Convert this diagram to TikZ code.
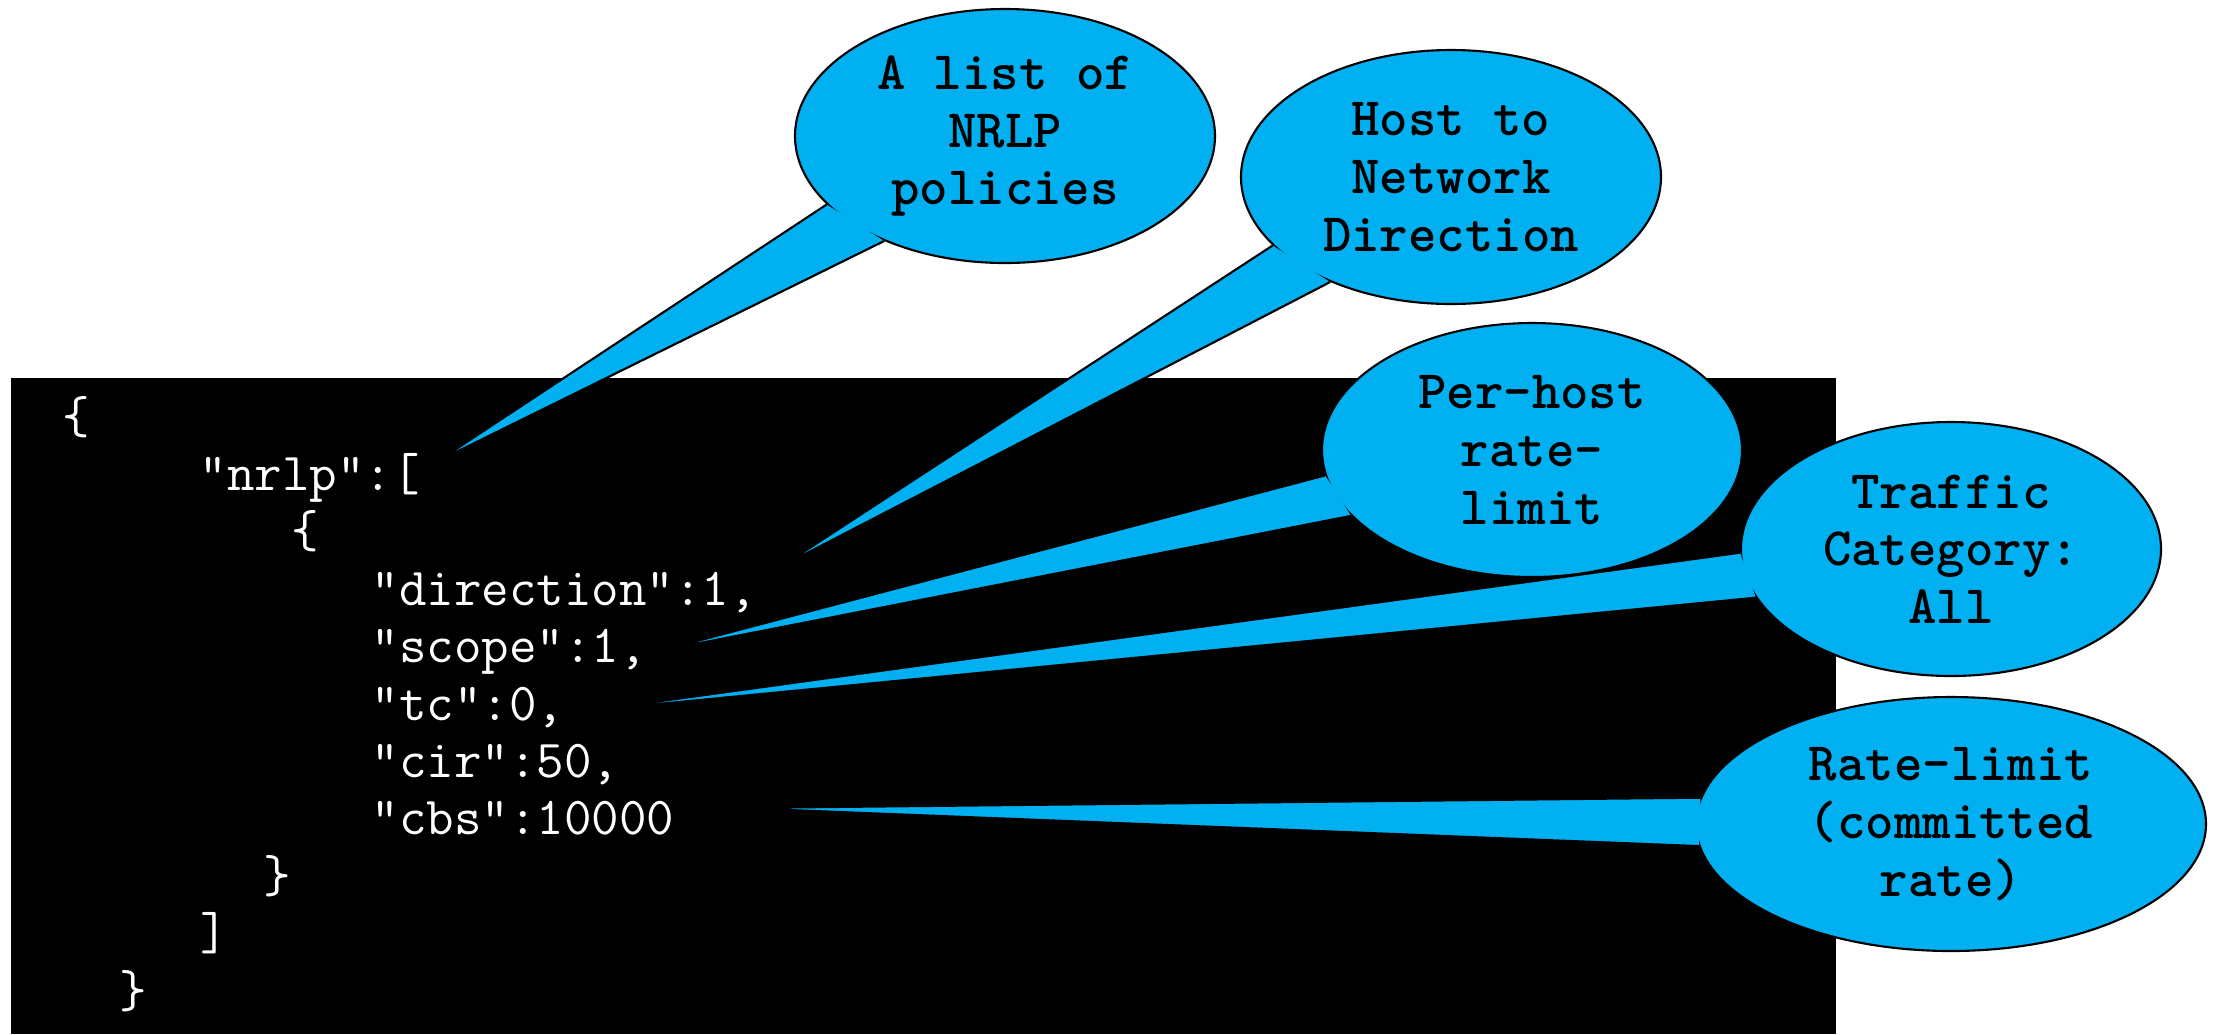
\documentclass[tikz,border=0pt]{standalone}
\usepackage{fontspec}
\usetikzlibrary{shapes.geometric}
\definecolor{Callout}{HTML}{00B0F0}
\definecolor{CodeBack}{HTML}{000000}

\tikzset{
  balloon/.style={ellipse, draw=black, fill=Callout, line width=0.6pt, inner sep=0pt,
    minimum width=42mm, minimum height=25.4mm, align=center,
    font=\ttfamily\bfseries\fontsize{15.4}{16.4}\selectfont},
  tail/.style={fill=Callout},
  tailedge/.style={draw=black, line width=0.6pt, line join=round},
  codeline/.style={text=white, inner sep=0pt, anchor=base west,
    font=\ttfamily\fontsize{15.2}{16.3}\selectfont}
}

\begin{document}
\begin{tikzpicture}[x=0.1mm,y=-0.1mm]
  \useasboundingbox (0,0) rectangle (2220,1034);
  \fill[CodeBack] (11,378) rectangle (1836,1034);
  % the json text, one line per row
  \foreach \x/\i/\txt in {62/0/\{, 199/1/{"nrlp":[}, 291/2/\{,
      371/3/{"direction":1,}, 371/4/{"scope":1,}, 371/5/{"tc":0,},
      371/6/{"cir":50,}, 371/7/{"cbs":10000}, 263/8/\}, 200/9/{]}, 119/10/\}} {
    \node[codeline] (code\i) at (\x,433+57.4*\i) {\txt};
  }
  % callouts
  \node[balloon] (policies) at (1005,136) {A list of\\NRLP\\policies};
  \coordinate (policiestip) at (438,461);
  \fill[tail] (policiestip) -- (policies.201) -- (policies.221) -- cycle;
  \draw[tailedge] (policies.201) -- (policiestip) -- (policies.221);

  \node[balloon] (direction) at (1451,177) {Host to\\Network\\Direction};
  \coordinate (directiontip) at (782,566);
  \fill[tail] (directiontip) -- (direction.201) -- (direction.221) -- cycle;
  \draw[tailedge] (direction.201) -- (directiontip) -- (direction.221);

  \node[balloon] (scope) at (1532,450) {Per-host\\rate-\\limit};
  \coordinate (scopetip) at (659,651);
  \fill[tail] (scopetip) -- (scope.187) -- (scope.200) -- cycle;
  \draw[tailedge] (scope.187) -- (scopetip) -- (scope.200);

  \node[balloon] (category) at (1951,549) {Traffic\\Category:\\All};
  \coordinate (categorytip) at (596,710);
  \fill[tail] (categorytip) -- (category.181) -- (category.194) -- cycle;
  \draw[tailedge] (category.181) -- (categorytip) -- (category.194);

  \node[balloon, minimum width=51mm] (rate) at (1951,824) {Rate-limit\\(committed\\rate)};
  \coordinate (ratetip) at (739,808);
  \fill[tail] (ratetip) -- (rate.174.5) -- (rate.185.2) -- cycle;
  \draw[tailedge] (rate.174.5) -- (ratetip) -- (rate.185.2);
\end{tikzpicture}
\end{document}
